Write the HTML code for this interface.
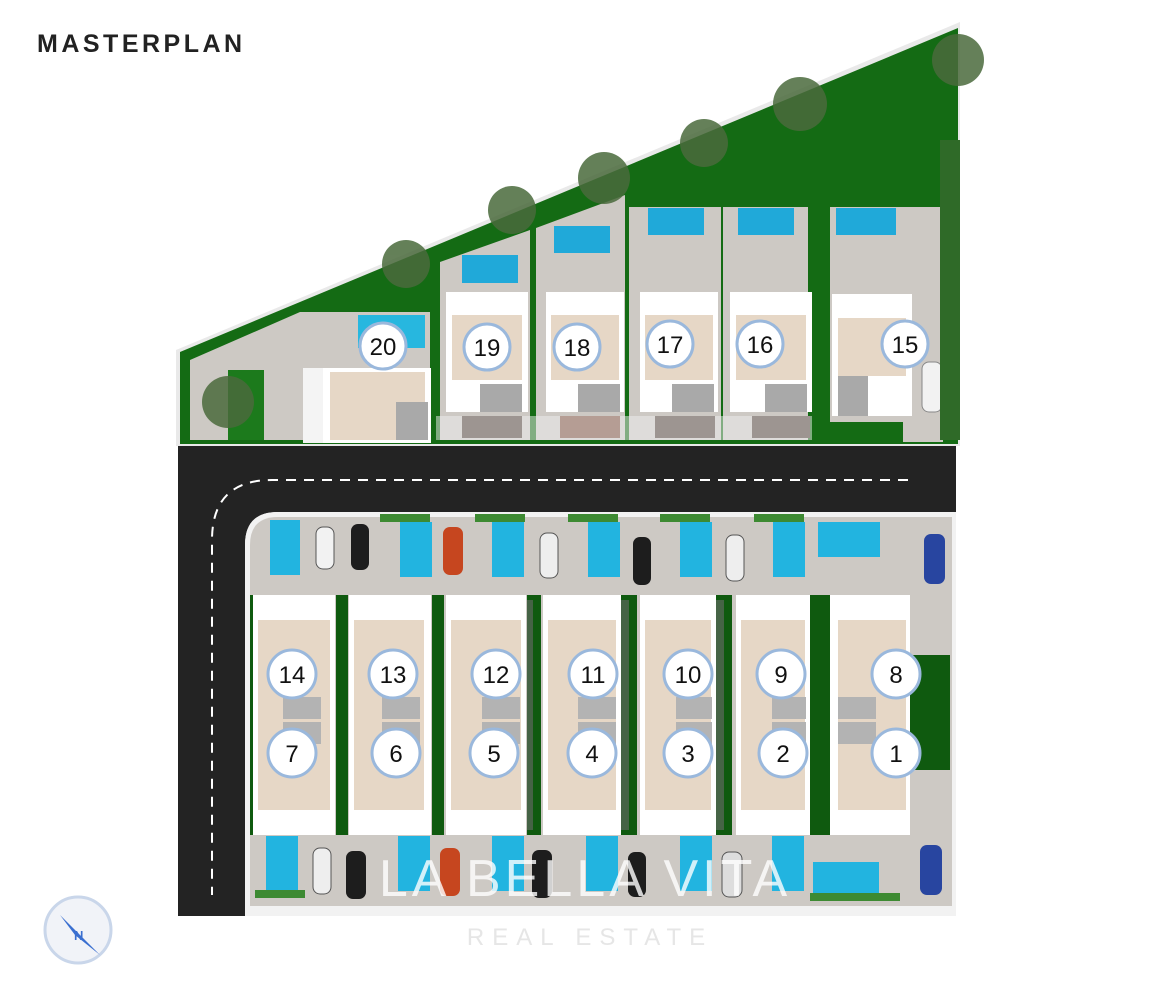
<!DOCTYPE html>
<html><head><meta charset="utf-8"><style>
html,body{margin:0;padding:0;background:#fff;}
body{width:1170px;height:1000px;overflow:hidden;position:relative;font-family:"Liberation Sans",sans-serif;}
svg{position:absolute;left:0;top:0;}
</style></head><body>
<svg width="1170" height="1000" viewBox="0 0 1170 1000" xmlns="http://www.w3.org/2000/svg" font-family="Liberation Sans, sans-serif">
<text x="37" y="52" font-size="25" font-weight="bold" fill="#222" letter-spacing="3.5">MASTERPLAN</text>

<polygon points="176,350 960,22 960,446 176,446" fill="#e9e9e9"/>
<polygon points="180,352 958,28 958,444 180,444" fill="#146b14"/>
<polygon points="190,360 300,312 430,312 430,440 190,440" fill="#cdc9c4"/>
<rect x="228" y="370" width="36" height="70" fill="#1c7a1c"/>
<rect x="358" y="315" width="67" height="33" fill="#27b7df"/>
<rect x="303" y="368" width="128" height="75" fill="#fff"/>
<rect x="330" y="372" width="95" height="68" fill="#e6d7c6"/>
<rect x="396" y="402" width="32" height="38" fill="#a9a9a9"/>
<rect x="303" y="368" width="20" height="75" fill="#f4f4f4"/>
<g>
<polygon points="440,262 530,230 530,440 440,440" fill="#cdc9c4"/>
<rect x="462" y="255" width="56" height="28" fill="#20a9d9"/>
<rect x="446" y="292" width="82" height="120" fill="#fff"/>
<rect x="452" y="315" width="70" height="65" fill="#e6d7c6"/>
<rect x="480" y="384" width="42" height="28" fill="#a9a9a9"/>
<rect x="462" y="416" width="60" height="22" fill="#4a3b33"/>

<polygon points="536,228 625,195 625,440 536,440" fill="#cdc9c4"/>
<rect x="554" y="226" width="56" height="27" fill="#20a9d9"/>
<rect x="546" y="292" width="78" height="120" fill="#fff"/>
<rect x="551" y="315" width="68" height="65" fill="#e6d7c6"/>
<rect x="578" y="384" width="42" height="28" fill="#a9a9a9"/>
<rect x="560" y="416" width="60" height="22" fill="#7a4a38"/>

<rect x="629" y="207" width="92" height="233" fill="#cdc9c4"/>
<rect x="648" y="208" width="56" height="27" fill="#20a9d9"/>
<rect x="640" y="292" width="78" height="120" fill="#fff"/>
<rect x="645" y="315" width="68" height="65" fill="#e6d7c6"/>
<rect x="672" y="384" width="42" height="28" fill="#a9a9a9"/>
<rect x="655" y="416" width="60" height="22" fill="#4a3b33"/>

<rect x="723" y="207" width="85" height="233" fill="#cdc9c4"/>
<rect x="738" y="208" width="56" height="27" fill="#20a9d9"/>
<rect x="730" y="292" width="82" height="120" fill="#fff"/>
<rect x="736" y="315" width="70" height="65" fill="#e6d7c6"/>
<rect x="765" y="384" width="42" height="28" fill="#a9a9a9"/>
<rect x="752" y="416" width="58" height="22" fill="#4a3b33"/>

<rect x="830" y="207" width="112" height="215" fill="#cdc9c4"/>
<rect x="903" y="330" width="40" height="112" fill="#cdc9c4"/>
<rect x="836" y="208" width="60" height="27" fill="#20a9d9"/>
<rect x="832" y="294" width="80" height="122" fill="#fff"/>
<rect x="838" y="318" width="68" height="58" fill="#e6d7c6"/>
<rect x="838" y="376" width="30" height="40" fill="#a9a9a9"/>
<rect x="922" y="362" width="20" height="50" rx="7" fill="#f2f2f2" stroke="#888"/>
<rect x="436" y="416" width="376" height="24" fill="#f0f0f0" opacity="0.5"/>
</g>
<g fill="#4a6a3c" opacity="0.85">
<circle cx="406" cy="264" r="24"/><circle cx="512" cy="210" r="24"/><circle cx="604" cy="178" r="26"/>
<circle cx="704" cy="143" r="24"/><circle cx="800" cy="104" r="27"/><circle cx="958" cy="60" r="26"/>
<circle cx="228" cy="402" r="26"/>
</g>
<rect x="940" y="140" width="20" height="300" fill="#2f6a28"/>

<path d="M178,446 H956 V512 H278 Q245,512 245,545 V916 H178 Z" fill="#232323"/>
<path d="M908,480 H272 Q212,480 212,540 V895" fill="none" stroke="#fff" stroke-width="2" stroke-dasharray="10,8"/>

<path d="M245,545 Q245,512 278,512 H956 V916 H245 Z" fill="#f2f2f2"/>
<path d="M250,545 Q250,517 278,517 H952 V906 H250 Z" fill="#cdc9c4"/>
<g fill="#0f5a0f">
<rect x="336" y="595" width="12" height="240"/><rect x="432" y="595" width="12" height="240"/>
<rect x="527" y="595" width="14" height="240"/><rect x="621" y="595" width="16" height="240"/>
<rect x="716" y="595" width="16" height="240"/><rect x="810" y="595" width="20" height="240"/>
<rect x="910" y="655" width="40" height="115"/>
<rect x="250" y="595" width="6" height="240"/>
</g>
<g fill="#6a6a6a" opacity="0.6">
<rect x="527" y="600" width="6" height="230"/><rect x="621" y="600" width="8" height="230"/><rect x="716" y="600" width="8" height="230"/>
</g>
<g>
<rect x="253" y="595" width="82" height="240" fill="#fff"/><rect x="258" y="620" width="72" height="190" fill="#e6d7c6"/>
<rect x="349" y="595" width="82" height="240" fill="#fff"/><rect x="354" y="620" width="70" height="190" fill="#e6d7c6"/>
<rect x="446" y="595" width="80" height="240" fill="#fff"/><rect x="451" y="620" width="70" height="190" fill="#e6d7c6"/>
<rect x="543" y="595" width="78" height="240" fill="#fff"/><rect x="548" y="620" width="68" height="190" fill="#e6d7c6"/>
<rect x="640" y="595" width="76" height="240" fill="#fff"/><rect x="645" y="620" width="66" height="190" fill="#e6d7c6"/>
<rect x="736" y="595" width="74" height="240" fill="#fff"/><rect x="741" y="620" width="64" height="190" fill="#e6d7c6"/>
<rect x="830" y="595" width="80" height="240" fill="#fff"/><rect x="838" y="620" width="68" height="190" fill="#e6d7c6"/>
</g>
<g fill="#b3b3b3">
<rect x="283" y="697" width="38" height="22"/><rect x="283" y="722" width="38" height="22"/>
<rect x="382" y="697" width="38" height="22"/><rect x="382" y="722" width="38" height="22"/>
<rect x="482" y="697" width="38" height="22"/><rect x="482" y="722" width="38" height="22"/>
<rect x="578" y="697" width="38" height="22"/><rect x="578" y="722" width="38" height="22"/>
<rect x="676" y="697" width="36" height="22"/><rect x="676" y="722" width="36" height="22"/>
<rect x="772" y="697" width="34" height="22"/><rect x="772" y="722" width="34" height="22"/>
<rect x="838" y="697" width="38" height="22"/><rect x="838" y="722" width="38" height="22"/>
</g>
<g fill="#22b4e0">
<rect x="270" y="520" width="30" height="55"/><rect x="400" y="522" width="32" height="55"/>
<rect x="492" y="522" width="32" height="55"/><rect x="588" y="522" width="32" height="55"/>
<rect x="680" y="522" width="32" height="55"/><rect x="773" y="522" width="32" height="55"/>
<rect x="818" y="522" width="62" height="35"/>
<rect x="266" y="836" width="32" height="55"/><rect x="398" y="836" width="32" height="55"/>
<rect x="492" y="836" width="32" height="55"/><rect x="586" y="836" width="32" height="55"/>
<rect x="680" y="836" width="32" height="55"/><rect x="772" y="836" width="32" height="55"/>
<rect x="813" y="862" width="66" height="32"/>
</g>
<g>
<rect x="316" y="527" width="18" height="42" rx="7" fill="#f2f2f2" stroke="#555"/>
<rect x="351" y="524" width="18" height="46" rx="7" fill="#1d1d1d"/>
<rect x="443" y="527" width="20" height="48" rx="7" fill="#c6461f"/>
<rect x="540" y="533" width="18" height="45" rx="7" fill="#eee" stroke="#555"/>
<rect x="633" y="537" width="18" height="48" rx="7" fill="#1d1d1d"/>
<rect x="726" y="535" width="18" height="46" rx="7" fill="#eee" stroke="#555"/>
<rect x="924" y="534" width="21" height="50" rx="7" fill="#2845a0"/>
<rect x="313" y="848" width="18" height="46" rx="7" fill="#eee" stroke="#555"/>
<rect x="346" y="851" width="20" height="48" rx="7" fill="#1d1d1d"/>
<rect x="440" y="848" width="20" height="48" rx="7" fill="#c6461f"/>
<rect x="532" y="850" width="20" height="48" rx="7" fill="#1d1d1d"/>
<rect x="628" y="852" width="18" height="45" rx="7" fill="#1d1d1d"/>
<rect x="722" y="852" width="20" height="45" rx="7" fill="#ddd" stroke="#555"/>
<rect x="920" y="845" width="22" height="50" rx="7" fill="#2845a0"/>
</g>
<g fill="#3d8a32">
<rect x="380" y="514" width="50" height="8"/><rect x="475" y="514" width="50" height="8"/><rect x="568" y="514" width="50" height="8"/>
<rect x="660" y="514" width="50" height="8"/><rect x="754" y="514" width="50" height="8"/>
<rect x="255" y="890" width="50" height="8"/><rect x="810" y="893" width="90" height="8"/>
</g>

<g fill="#fff" stroke="#9ab8dc" stroke-width="3">
<circle cx="383" cy="346" r="23"/><circle cx="487" cy="347" r="23"/><circle cx="577" cy="347" r="23"/>
<circle cx="670" cy="344" r="23"/><circle cx="760" cy="344" r="23"/><circle cx="905" cy="344" r="23"/>
<circle cx="292" cy="674" r="24"/><circle cx="393" cy="674" r="24"/><circle cx="496" cy="674" r="24"/>
<circle cx="593" cy="674" r="24"/><circle cx="688" cy="674" r="24"/><circle cx="781" cy="674" r="24"/><circle cx="896" cy="674" r="24"/>
<circle cx="292" cy="753" r="24"/><circle cx="396" cy="753" r="24"/><circle cx="494" cy="753" r="24"/>
<circle cx="592" cy="753" r="24"/><circle cx="688" cy="753" r="24"/><circle cx="783" cy="753" r="24"/><circle cx="896" cy="753" r="24"/>
</g>
<g font-size="24" fill="#111" text-anchor="middle">
<text x="383" y="355">20</text><text x="487" y="356">19</text><text x="577" y="356">18</text>
<text x="670" y="353">17</text><text x="760" y="353">16</text><text x="905" y="353">15</text>
<text x="292" y="683">14</text><text x="393" y="683">13</text><text x="496" y="683">12</text>
<text x="593" y="683">11</text><text x="688" y="683">10</text><text x="781" y="683">9</text><text x="896" y="683">8</text>
<text x="292" y="762">7</text><text x="396" y="762">6</text><text x="494" y="762">5</text>
<text x="592" y="762">4</text><text x="688" y="762">3</text><text x="783" y="762">2</text><text x="896" y="762">1</text>
</g>

<text x="585" y="896" font-size="52" fill="#fff" fill-opacity="0.8" text-anchor="middle" letter-spacing="4">LA BELLA VITA</text>
<text x="590" y="945" font-size="24" fill="#e6e6e6" text-anchor="middle" letter-spacing="8">REAL ESTATE</text>

<circle cx="78" cy="930" r="33" fill="#f1f3f8" stroke="#c9d6ea" stroke-width="3"/>
<polygon points="60,915 100,955 75,935" fill="#3a6fd0"/>
<text x="74" y="940" font-size="13" fill="#3a6fd0" font-weight="bold">N</text>
</svg>
</body></html>
